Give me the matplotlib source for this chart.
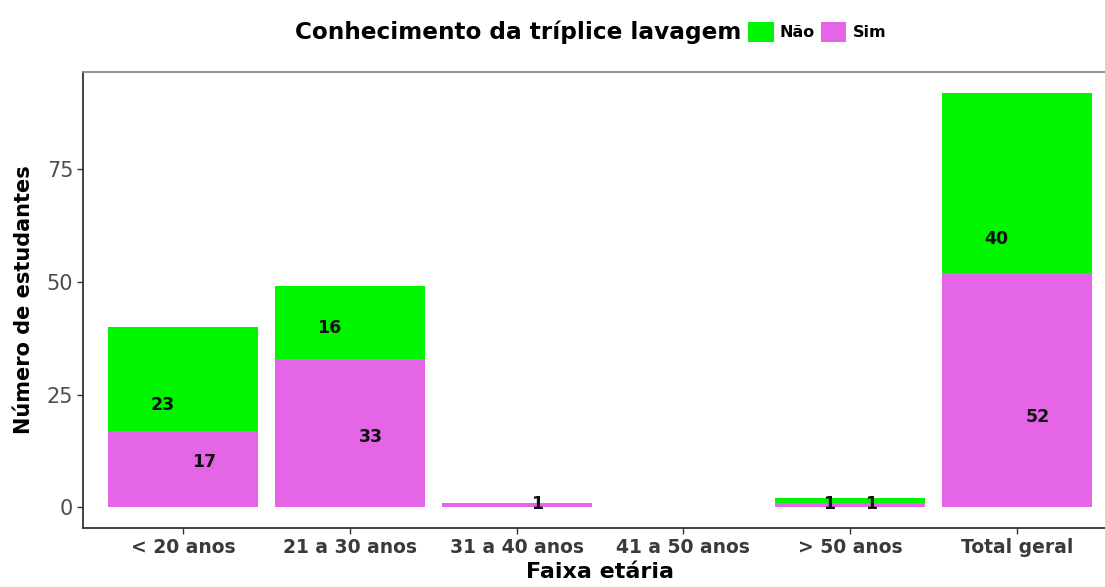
import numpy as np
import matplotlib.pyplot as plt
import matplotlib as mpl
from matplotlib.patches import Patch

mpl.rcParams['font.family'] = ['DejaVu Sans']

categories = ['< 20 anos', '21 a 30 anos', '31 a 40 anos', '41 a 50 anos', '> 50 anos', 'Total geral']
sim = [17, 33, 1, 0, 1, 52]
nao = [23, 16, 0, 0, 1, 40]

# where the count labels sit (data units)
label_y_nao = [22.8, 39.7, 0, 0, 0.7, 59.6]
label_y_sim = [10.0, 15.7, 0.7, 0, 0.7, 20.0]
label_dx = 0.125

col_nao = '#00F500'
col_sim = '#E466E6'

fig = plt.figure(figsize=(11.05, 5.87), dpi=100)
ax = fig.add_axes([0.0751, 0.1005, 0.9357, 0.7768])

x = np.arange(1, len(categories) + 1)
ax.bar(x, sim, width=0.9, color=col_sim, linewidth=0)
ax.bar(x, nao, width=0.9, bottom=sim, color=col_nao, linewidth=0)

for xi, n, s, yn, ys in zip(x, nao, sim, label_y_nao, label_y_sim):
    if n > 0:
        ax.text(xi - label_dx, yn, str(n), ha='center', va='center',
                fontsize=12.5, fontweight='bold', color='#111111')
    if s > 0:
        ax.text(xi + label_dx, ys, str(s), ha='center', va='center',
                fontsize=12.5, fontweight='bold', color='#111111')

ax.set_xlim(0.4, 6.6)
ax.set_ylim(-4.6, 96.6)
ax.set_xticks(x)
ax.set_xticklabels(categories, fontsize=13.5, fontweight='bold', color='#3a3a3a')
ax.set_yticks([0, 25, 50, 75])
ax.set_yticklabels(['0', '25', '50', '75'], fontsize=15, color='#4d4d4d')
ax.tick_params(axis='both', length=4, width=1, color='#333333', pad=3)

for side in ['left', 'bottom']:
    ax.spines[side].set_color('#333333')
    ax.spines[side].set_linewidth(1.3)
for side in ['top', 'right']:
    ax.spines[side].set_color('#8a8a8a')
    ax.spines[side].set_linewidth(1.3)

ax.set_xlabel('Faixa etária', fontsize=16, fontweight='bold', labelpad=4)
ax.set_ylabel('Número de estudantes', fontsize=15, fontweight='bold', labelpad=9)

# legend on top: title text followed by the two keys
fig.text(741 / 1105, 1 - 32 / 587, 'Conhecimento da tríplice lavagem',
         ha='right', va='center', fontsize=16.7, fontweight='bold')
handles = [Patch(facecolor=col_nao, edgecolor='none', label='Não'),
           Patch(facecolor=col_sim, edgecolor='none', label='Sim')]
fig.legend(handles=handles, loc='center left', bbox_to_anchor=(748 / 1105, 1 - 32 / 587),
           ncol=2, frameon=False, prop={'size': 11.5, 'weight': 'bold'},
           handlelength=1.6, handleheight=1.6, handletextpad=0.4, columnspacing=0.35,
           borderpad=0, borderaxespad=0)

plt.savefig('out.png', dpi=100)
